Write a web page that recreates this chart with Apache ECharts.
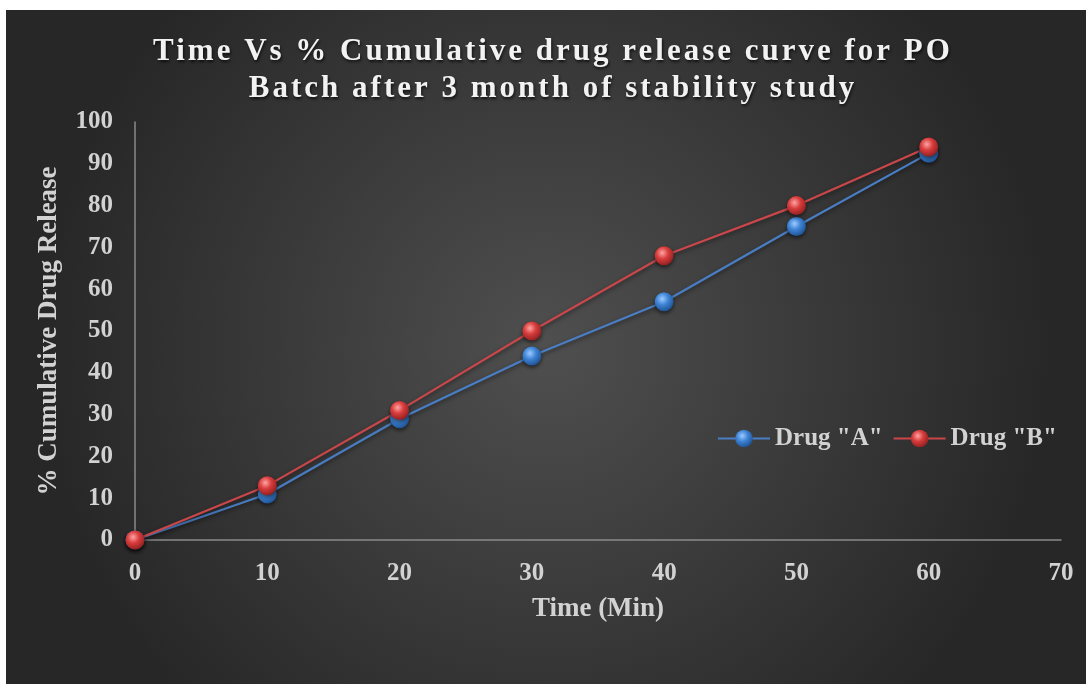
<!DOCTYPE html>
<html>
<head>
<meta charset="utf-8">
<script src="https://cdn.jsdelivr.net/npm/echarts@6/dist/echarts.min.js"></script>
<style>
html,body{margin:0;padding:0;background:#ffffff;}
#c{width:1089px;height:684px;}
</style>
</head>
<body>
<div id="c"></div>
<script>
var times = [0, 10, 20, 30, 40, 50, 60];
var drugA = [0, 11, 29, 44, 57, 75, 92.5];
var drugB = [0, 13, 31, 50, 68, 80, 94];
var seriesNames = ['Drug "A"', 'Drug "B"'];
var titleText = 'Time Vs % Cumulative drug release curve for PO\nBatch after 3 month of stability study';
var xName = 'Time (Min)';
var yName = '% Cumulative Drug Release';

// letter-spaced title text (the reference title is tracked out)
(function(){
  var P = CanvasRenderingContext2D.prototype;
  if (!('letterSpacing' in P)) return;
  var oF = P.fillText, oS = P.strokeText, oM = P.measureText;
  function set(ctx){ ctx.letterSpacing = /\b31px/.test(ctx.font || '') ? '3px' : '0px'; }
  P.fillText = function(){ set(this); return oF.apply(this, arguments); };
  P.strokeText = function(){ set(this); return oS.apply(this, arguments); };
  P.measureText = function(){ set(this); return oM.apply(this, arguments); };
})();

function pairs(xs, ys){ return xs.map(function(x,i){return [x, ys[i]];}); }
function sphere(light, mid, dark){
  return new echarts.graphic.RadialGradient(0.4, 0.35, 0.7, [
    {offset:0, color:light},{offset:0.45, color:mid},{offset:1, color:dark}
  ]);
}
var serif = '"Liberation Serif","DejaVu Serif",serif';
var labelColor = '#d2d2d2';
var chart = echarts.init(document.getElementById('c'));
chart.setOption({
  animation:false,
  backgroundColor:'transparent',
  graphic:[{
    type:'rect', z:-10, silent:true,
    shape:{x:6, y:10, width:1080, height:674},
    style:{fill:new echarts.graphic.RadialGradient(0.5,0.5,0.75,[
      {offset:0,color:'#4f4f4f'},{offset:1,color:'#272727'}])}
  }],
  title:{
    text:titleText, left:548, top:28, textAlign:'center',
    textStyle:{fontFamily:serif, fontWeight:'bold', fontSize:31, color:'#f2f2f2', lineHeight:37,
      textShadowColor:'rgba(0,0,0,0.7)', textShadowBlur:3, textShadowOffsetX:1, textShadowOffsetY:2}
  },
  legend:{
    left:712, top:421, itemWidth:52, itemHeight:22, itemGap:10,
    textStyle:{fontFamily:serif, fontWeight:'bold', fontSize:25, color:labelColor},
    data:seriesNames
  },
  grid:{left:135, right:28, top:122, bottom:144},
  xAxis:{
    type:'value', min:0, max:70, interval:10,
    name:xName, nameLocation:'middle', nameGap:56,
    nameTextStyle:{fontFamily:serif, fontWeight:'bold', fontSize:27, color:labelColor},
    axisLine:{show:true, lineStyle:{color:'#8a8a8a', width:1.5}},
    axisTick:{show:false}, splitLine:{show:false},
    axisLabel:{fontFamily:serif, fontWeight:'bold', fontSize:25, color:labelColor, margin:21}
  },
  yAxis:{
    type:'value', min:0, max:100, interval:10,
    name:yName, nameLocation:'middle', nameGap:72,
    nameTextStyle:{fontFamily:serif, fontWeight:'bold', fontSize:27, color:labelColor},
    axisLine:{show:true, lineStyle:{color:'#8a8a8a', width:1.5}},
    axisTick:{show:false}, splitLine:{show:false},
    axisLabel:{fontFamily:serif, fontWeight:'bold', fontSize:25, color:labelColor, margin:22}
  },
  series:[{
    name:seriesNames[0], type:'line', data:pairs(times, drugA),
    symbol:'circle', symbolSize:19,
    lineStyle:{color:'#4a7ec4', width:2.2, shadowColor:'rgba(0,0,0,0.5)', shadowBlur:4, shadowOffsetY:2},
    itemStyle:{color:sphere('#9ccaff','#3f84d6','#1c4e8c'), shadowColor:'rgba(0,0,0,0.6)', shadowBlur:4, shadowOffsetY:2}
  },{
    name:seriesNames[1], type:'line', data:pairs(times, drugB),
    symbol:'circle', symbolSize:19,
    lineStyle:{color:'#c9474a', width:2.2, shadowColor:'rgba(0,0,0,0.5)', shadowBlur:4, shadowOffsetY:2},
    itemStyle:{color:sphere('#ffa3a3','#d83c3c','#8c1e1e'), shadowColor:'rgba(0,0,0,0.6)', shadowBlur:4, shadowOffsetY:2}
  }]
});
</script>
</body>
</html>
